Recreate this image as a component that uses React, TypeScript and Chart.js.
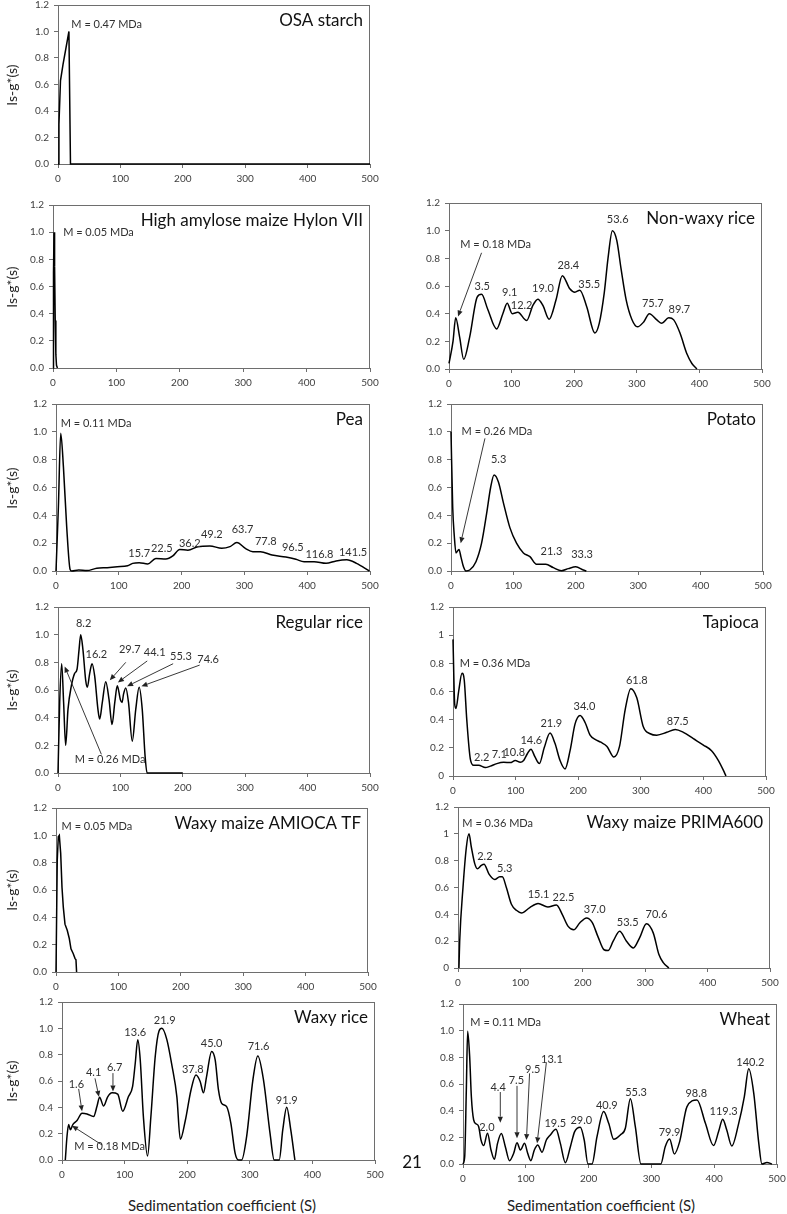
import React, { useEffect, useRef } from "react";
import { Chart, registerables } from "chart.js";
Chart.register(...registerables);

// ---------- axis ticks ----------
const xTicks = [0, 100, 200, 300, 400, 500];
const yTicks = [0, 0.2, 0.4, 0.6, 0.8, 1.0, 1.2];

// ---------- series (sedimentation coefficient S, ls-g*(s)) ----------
const osaS = [0, 1.5, 4, 8, 17.5, 20, 500];
const osaG = [0, 0.3, 0.63, 0.75, 1.0, 0, 0];

const hylonS = [0, 0.8, 1.6, 2.5, 3.5, 4.5, 5.5, 7];
const hylonG = [0, 0.7, 1.0, 0.75, 0.35, 0.1, 0.02, 0];

const nwS = [0, 6.4, 10.7, 17, 23.5, 33, 45, 52, 62, 76, 86, 93, 101, 110, 124, 134, 142, 150, 160, 171, 181, 193, 201, 209, 220, 233, 240, 248, 254, 261, 268, 275, 283, 292, 301, 311, 320, 332, 340, 351, 359, 369, 380, 388, 396];
const nwG = [0.04, 0.2, 0.37, 0.23, 0.07, 0.23, 0.52, 0.54, 0.43, 0.29, 0.4, 0.475, 0.4, 0.41, 0.35, 0.46, 0.505, 0.46, 0.36, 0.5, 0.675, 0.58, 0.555, 0.57, 0.45, 0.26, 0.33, 0.55, 0.8, 1.0, 0.93, 0.72, 0.5, 0.36, 0.305, 0.34, 0.4, 0.355, 0.33, 0.37, 0.355, 0.26, 0.11, 0.04, 0];

const peaS = [0, 3.8, 7.5, 11.8, 17, 22.5, 25, 36, 49, 65, 81.5, 97.6, 114, 122, 132.5, 146, 159, 175, 186, 197, 210, 226, 245, 264, 277, 288, 301.5, 313.5, 325.6, 344, 366, 382, 395, 411, 430, 446, 463, 478.5, 499];
const peaG = [0, 0.46, 0.99, 0.75, 0.32, 0.01, 0, 0.007, 0.003, 0.02, 0.024, 0.03, 0.038, 0.055, 0.06, 0.05, 0.09, 0.086, 0.108, 0.155, 0.15, 0.175, 0.18, 0.163, 0.175, 0.204, 0.163, 0.139, 0.139, 0.115, 0.1, 0.084, 0.067, 0.067, 0.055, 0.072, 0.08, 0.055, 0];

const potS = [0, 2.7, 5.3, 8, 12.8, 16, 20, 24, 30, 40, 49, 57, 63.5, 69, 76, 84, 94.5, 105, 116, 126.5, 137, 152, 164, 177, 188, 200, 212, 217];
const potG = [1.0, 0.46, 0.25, 0.13, 0.155, 0.1, 0.03, 0, 0.007, 0.067, 0.2, 0.41, 0.6, 0.69, 0.64, 0.49, 0.31, 0.2, 0.13, 0.103, 0.048, 0.048, 0.024, 0.002, 0.017, 0.03, 0.007, 0];

const rrS = [0, 2.7, 5.9, 9, 12.3, 16, 21.4, 26.7, 30.5, 33.7, 36.4, 40, 44.4, 47, 50.8, 54.5, 58.8, 64, 66.8, 71, 76.5, 81.8, 86.6, 91, 95, 100, 102.7, 105, 108.6, 113, 119, 124.6, 130, 135, 139.6, 142.8, 200];
const rrG = [0, 0.51, 0.79, 0.51, 0.2, 0.46, 0.63, 0.72, 0.75, 0.89, 1.0, 0.89, 0.67, 0.62, 0.72, 0.79, 0.7, 0.46, 0.39, 0.51, 0.66, 0.53, 0.35, 0.51, 0.63, 0.53, 0.51, 0.57, 0.615, 0.51, 0.23, 0.46, 0.62, 0.46, 0.12, 0, 0];

const tapS = [0, 2.7, 4.8, 9, 14.4, 18, 22, 27.7, 33, 41, 51.6, 59.6, 70, 81, 91.5, 99.5, 107.4, 112.8, 119, 124.5, 131, 138, 145.7, 155, 163, 171, 179, 187, 195, 203, 211, 219, 227, 236, 246, 257, 266, 275, 284, 293.6, 304, 315, 325.5, 341.5, 355, 368, 384, 400, 413, 424, 432, 436];
const tapG = [0.97, 0.51, 0.48, 0.6, 0.73, 0.68, 0.4, 0.12, 0.076, 0.076, 0.06, 0.07, 0.088, 0.097, 0.095, 0.11, 0.097, 0.11, 0.16, 0.19, 0.135, 0.088, 0.2, 0.305, 0.23, 0.11, 0.05, 0.18, 0.37, 0.43, 0.38, 0.29, 0.26, 0.24, 0.21, 0.135, 0.21, 0.47, 0.62, 0.555, 0.35, 0.3, 0.29, 0.31, 0.33, 0.31, 0.265, 0.22, 0.18, 0.11, 0.04, 0];

const amS = [0, 2, 3.7, 5.3, 7.5, 9.6, 11.7, 14.4, 18, 21.3, 24, 27.7, 30.4, 32, 33];
const amG = [0, 0.82, 0.99, 1.0, 0.87, 0.62, 0.475, 0.35, 0.305, 0.245, 0.17, 0.134, 0.1, 0.09, 0];

const prS = [1.5, 2.7, 8, 13.4, 17.6, 21.4, 26.7, 31, 37.4, 41.7, 49.7, 58.8, 67, 71, 77.5, 85.6, 93.6, 101.6, 115, 128.3, 144, 157.8, 167, 176.5, 185.5, 195, 206, 215, 224.6, 234, 240.6, 248.7, 259, 270, 281, 291, 302, 313, 322, 329, 338];
const prG = [0, 0.2, 0.6, 0.9, 1.0, 0.9, 0.78, 0.74, 0.765, 0.773, 0.7, 0.66, 0.68, 0.68, 0.6, 0.475, 0.43, 0.41, 0.45, 0.48, 0.455, 0.47, 0.4, 0.31, 0.285, 0.335, 0.373, 0.34, 0.23, 0.136, 0.13, 0.2, 0.274, 0.2, 0.15, 0.225, 0.33, 0.26, 0.1, 0.04, 0];

const wrS = [5.3, 8, 10.6, 13.3, 17.5, 24, 32, 40, 50.5, 56, 60, 66.5, 73, 80, 89, 97, 106, 112.8, 117, 121, 125, 130, 136.7, 142, 149, 155, 159.6, 167.5, 175.5, 183.5, 189, 197, 206, 214, 220.7, 226, 231, 239, 244.7, 250, 255, 263, 269.7, 276.6, 282, 287, 295, 305, 312.8, 321.8, 332.4, 339, 347, 352.7, 359, 365.4, 372];
const wrG = [0, 0.18, 0.27, 0.23, 0.27, 0.3, 0.355, 0.35, 0.33, 0.41, 0.477, 0.41, 0.48, 0.51, 0.5, 0.37, 0.48, 0.56, 0.735, 0.913, 0.76, 0.33, 0.03, 0.33, 0.79, 0.98, 1.0, 0.914, 0.72, 0.48, 0.157, 0.3, 0.53, 0.645, 0.596, 0.51, 0.635, 0.825, 0.76, 0.53, 0.43, 0.405, 0.28, 0.05, 0, 0, 0.18, 0.61, 0.79, 0.61, 0.2, 0, 0, 0.23, 0.4, 0.23, 0];

const whS = [0, 2.7, 5.3, 7.4, 10.6, 13.3, 17, 21.2, 25, 28.7, 33, 39, 44.6, 50, 55, 61, 67.4, 74, 80.7, 86, 91.3, 98, 103, 108, 113.6, 119, 125.8, 132.7, 139, 148, 155, 163, 171, 177.8, 186.8, 193, 199, 205.4, 213.4, 224, 232, 240, 250.5, 258.5, 266.5, 274.4, 283.4, 315, 322, 329, 336.5, 345, 356.7, 372.6, 386, 399, 407, 413.5, 420, 428, 439, 448, 455, 463, 471, 476, 484, 492];
const whG = [0, 0.055, 0.556, 0.995, 0.807, 0.506, 0.33, 0.3, 0.28, 0.18, 0.138, 0.23, 0.105, 0.035, 0.155, 0.228, 0.13, 0.025, 0.08, 0.16, 0.105, 0.155, 0.08, 0.025, 0.105, 0.143, 0.088, 0.18, 0.218, 0.26, 0.155, 0.01, 0.13, 0.243, 0.275, 0.18, 0, 0, 0.205, 0.393, 0.305, 0.185, 0.218, 0.268, 0.49, 0.28, 0, 0, 0.13, 0.188, 0.075, 0.168, 0.43, 0.48, 0.305, 0.138, 0.243, 0.336, 0.255, 0.135, 0.305, 0.506, 0.714, 0.53, 0.155, 0, 0.012, 0];

// ---------- annotations [S, g, text, align] and arrows [S1, g1, S2, g2] ----------
type Label = [number, number, string, string?];
type Arrow = [number, number, number, number];

const osaLabels: Label[] = [[21.4, 1.05, "M = 0.47 MDa", "l"]];
const hylonLabels: Label[] = [[16, 1.0, "M = 0.05 MDa", "l"]];
const nwLabels: Label[] = [[18, 0.9, "M = 0.18 MDa", "l"], [53, 0.6, "3.5"], [97, 0.55, "9.1"], [116, 0.457, "12.2"], [150, 0.58, "19.0"], [190.5, 0.75, "28.4"], [224, 0.61, "35.5"], [269.5, 1.08, "53.6"], [325.5, 0.476, "75.7"], [368, 0.43, "89.7"]];
const nwArrows: Arrow[] = [[52, 0.84, 14.4, 0.38]];
const peaLabels: Label[] = [[7.5, 1.06, "M = 0.11 MDa", "l"], [132.5, 0.127, "15.7"], [168.5, 0.163, "22.5"], [213, 0.2, "36.2"], [248, 0.26, "49.2"], [297, 0.295, "63.7"], [334, 0.21, "77.8"], [377, 0.168, "96.5"], [419.5, 0.122, "116.8"], [473, 0.13, "141.5"]];
const potLabels: Label[] = [[17, 1.0, "M = 0.26 MDa", "l"], [76.3, 0.8, "5.3"], [161, 0.144, "21.3"], [210, 0.122, "33.3"]];
const potArrows: Arrow[] = [[54.4, 0.953, 15.5, 0.2]];
const rrLabels: Label[] = [[41, 1.08, "8.2"], [61.5, 0.86, "16.2"], [115, 0.89, "29.7"], [155, 0.875, "44.1"], [197, 0.84, "55.3"], [240.6, 0.82, "74.6"], [26.7, 0.1, "M = 0.26 MDa", "l"]];
const rrArrows: Arrow[] = [[108.6, 0.8, 83, 0.67], [143, 0.81, 96, 0.655], [184.5, 0.79, 110.7, 0.627], [227, 0.78, 133.7, 0.627], [69.5, 0.135, 10.7, 0.77]];
const tapLabels: Label[] = [[10.6, 0.8, "M = 0.36 MDa", "l"], [46, 0.13, "2.2"], [74, 0.152, "7.1"], [98, 0.166, "10.8"], [125, 0.254, "14.6"], [157, 0.37, "21.9"], [210, 0.495, "34.0"], [293.6, 0.68, "61.8"], [359, 0.39, "87.5"]];
const amLabels: Label[] = [[9, 1.066, "M = 0.05 MDa", "l"]];
const prLabels: Label[] = [[7, 1.076, "M = 0.36 MDa", "l"], [43, 0.83, "2.2"], [75, 0.74, "5.3"], [129, 0.545, "15.1"], [169, 0.526, "22.5"], [219, 0.435, "37.0"], [272, 0.336, "53.5"], [318, 0.4, "70.6"]];
const wrLabels: Label[] = [[23, 0.576, "1.6"], [50.5, 0.665, "4.1"], [84, 0.705, "6.7"], [117, 0.97, "13.6"], [164, 1.06, "21.9"], [209, 0.69, "37.8"], [239, 0.885, "45.0"], [314, 0.86, "71.6"], [359, 0.45, "91.9"], [19.7, 0.1, "M = 0.18 MDa", "l"]];
const wrArrows: Arrow[] = [[26.6, 0.54, 32, 0.37], [52.7, 0.62, 59, 0.48], [81.4, 0.66, 81.4, 0.52], [64, 0.114, 16, 0.26]];
const whLabels: Label[] = [[11.7, 1.063, "M = 0.11 MDa", "l"], [38, 0.273, "2.0"], [56, 0.576, "4.4"], [85, 0.627, "7.5"], [111, 0.71, "9.5"], [141.6, 0.786, "13.1"], [147, 0.306, "19.5"], [188.4, 0.323, "29.0"], [229, 0.44, "40.9"], [275.5, 0.54, "55.3"], [329, 0.236, "79.9"], [371.5, 0.526, "98.8"], [415, 0.393, "119.3"], [457.5, 0.764, "140.2"]];
const whArrows: Arrow[] = [[59.4, 0.54, 59.4, 0.31], [86, 0.586, 86, 0.193], [106, 0.68, 101, 0.18], [132.7, 0.76, 118, 0.155]];

// ---------- layout ----------
const FONT = "Lato, 'Open Sans', sans-serif";
const YW = 45; // y-axis box width
const XH = 22; // x-axis box height
const PT = 8;
const PR = 12;
const AXIS = "#6e6e6e";

interface Panel {
  title: string;
  s: number[];
  g: number[];
  labels: Label[];
  arrows: Arrow[];
  rect: [number, number, number, number];
  plainY: boolean;
  smooth: boolean;
  yTitle: boolean;
}

const panels: Panel[] = [
  { title: "OSA starch", s: osaS, g: osaG, labels: osaLabels, arrows: [], rect: [58, 5, 370, 164], plainY: false, smooth: false, yTitle: true },
  { title: "High amylose maize Hylon VII", s: hylonS, g: hylonG, labels: hylonLabels, arrows: [], rect: [53, 205, 370, 368], plainY: false, smooth: false, yTitle: true },
  { title: "Non-waxy rice", s: nwS, g: nwG, labels: nwLabels, arrows: nwArrows, rect: [449, 203, 762, 369], plainY: false, smooth: true, yTitle: false },
  { title: "Pea", s: peaS, g: peaG, labels: peaLabels, arrows: [], rect: [56, 404, 370, 571], plainY: false, smooth: true, yTitle: true },
  { title: "Potato", s: potS, g: potG, labels: potLabels, arrows: potArrows, rect: [451, 404, 763, 571], plainY: false, smooth: true, yTitle: false },
  { title: "Regular rice", s: rrS, g: rrG, labels: rrLabels, arrows: rrArrows, rect: [58, 607, 370, 773], plainY: false, smooth: true, yTitle: true },
  { title: "Tapioca", s: tapS, g: tapG, labels: tapLabels, arrows: [], rect: [453, 607, 766, 776], plainY: true, smooth: true, yTitle: false },
  { title: "Waxy maize AMIOCA TF", s: amS, g: amG, labels: amLabels, arrows: [], rect: [56, 808, 368, 972], plainY: false, smooth: false, yTitle: true },
  { title: "Waxy maize PRIMA600", s: prS, g: prG, labels: prLabels, arrows: [], rect: [458, 807, 770, 968], plainY: true, smooth: true, yTitle: false },
  { title: "Waxy rice", s: wrS, g: wrG, labels: wrLabels, arrows: wrArrows, rect: [62, 1002, 375, 1160], plainY: false, smooth: true, yTitle: true },
  { title: "Wheat", s: whS, g: whG, labels: whLabels, arrows: whArrows, rect: [463, 1004, 777, 1164], plainY: false, smooth: true, yTitle: false },
];

function makeDecor(p: Panel) {
  return {
    id: "decor",
    beforeDatasetsDraw(chart: any) {
      const { ctx, chartArea: a } = chart;
      ctx.save();
      ctx.strokeStyle = AXIS;
      ctx.lineWidth = 1;
      ctx.beginPath();
      ctx.moveTo(Math.round(a.left), Math.round(a.top) + 0.5);
      ctx.lineTo(Math.round(a.right), Math.round(a.top) + 0.5);
      ctx.moveTo(Math.round(a.right) - 0.5, Math.round(a.top));
      ctx.lineTo(Math.round(a.right) - 0.5, Math.round(a.bottom));
      ctx.stroke();
      ctx.restore();
    },
    afterDatasetsDraw(chart: any) {
      const { ctx, chartArea: a, scales } = chart;
      const xs = scales.x, ys = scales.y;
      ctx.save();
      // panel title
      ctx.fillStyle = "#111";
      ctx.font = `17px ${FONT}`;
      ctx.textAlign = "right";
      ctx.textBaseline = "middle";
      ctx.fillText(p.title, a.right - 7, a.top + 16);
      // labels
      ctx.fillStyle = "#303030";
      ctx.font = `11px ${FONT}`;
      for (const [sx, gy, text, al] of p.labels) {
        ctx.textAlign = al === "l" ? "left" : "center";
        ctx.fillText(text, xs.getPixelForValue(sx), ys.getPixelForValue(gy));
      }
      // arrows
      ctx.strokeStyle = "#222";
      ctx.fillStyle = "#222";
      ctx.lineWidth = 0.9;
      for (const [s1, g1, s2, g2] of p.arrows) {
        const x1 = xs.getPixelForValue(s1), y1 = ys.getPixelForValue(g1);
        const x2 = xs.getPixelForValue(s2), y2 = ys.getPixelForValue(g2);
        const ang = Math.atan2(y2 - y1, x2 - x1);
        const hl = 6, hw = 2.6;
        const bx = x2 - hl * Math.cos(ang), by = y2 - hl * Math.sin(ang);
        ctx.beginPath();
        ctx.moveTo(x1, y1);
        ctx.lineTo(bx, by);
        ctx.stroke();
        ctx.beginPath();
        ctx.moveTo(x2, y2);
        ctx.lineTo(bx + hw * Math.sin(ang), by - hw * Math.cos(ang));
        ctx.lineTo(bx - hw * Math.sin(ang), by + hw * Math.cos(ang));
        ctx.closePath();
        ctx.fill();
      }
      ctx.restore();
    },
  };
}

function PanelChart({ p }: { p: Panel }) {
  const ref = useRef<HTMLCanvasElement>(null);
  const [L, T, R, B] = p.rect;
  const w = R - L + YW + PR;
  const h = B - T + PT + XH;
  useEffect(() => {
    const pts = p.s.map((sv, i) => ({ x: sv, y: p.g[i] }));
    const chart = new Chart(ref.current as HTMLCanvasElement, {
      type: "line",
      data: {
        datasets: [
          {
            data: pts,
            borderColor: "#000",
            borderWidth: 1.5,
            pointRadius: 0,
            fill: false,
            tension: p.smooth ? 0.4 : 0,
            cubicInterpolationMode: p.smooth ? "monotone" : "default",
            clip: false as any,
          } as any,
        ],
      },
      options: {
        animation: false,
        responsive: false,
        devicePixelRatio: 1,
        layout: { padding: { left: 0, top: PT, right: PR, bottom: 0 } },
        plugins: { legend: { display: false }, tooltip: { enabled: false } },
        scales: {
          x: {
            type: "linear",
            min: 0,
            max: 500,
            afterBuildTicks: (s: any) => {
              s.ticks = xTicks.map((v) => ({ value: v }));
            },
            afterFit: (s: any) => {
              s.height = XH;
              s.paddingLeft = 0;
              s.paddingRight = 0;
            },
            grid: { display: true, drawOnChartArea: false, drawTicks: true, tickLength: 4, color: AXIS },
            border: { display: true, color: AXIS, width: 1 },
            ticks: {
              autoSkip: false,
              maxRotation: 0,
              padding: 5,
              color: "#404040",
              font: { family: FONT, size: 10 },
              callback: (v: any) => String(v),
            },
          },
          y: {
            type: "linear",
            min: 0,
            max: 1.2,
            afterBuildTicks: (s: any) => {
              s.ticks = yTicks.map((v) => ({ value: v }));
            },
            afterFit: (s: any) => {
              s.width = YW;
              s.paddingTop = 0;
              s.paddingBottom = 0;
            },
            grid: { display: true, drawOnChartArea: false, drawTicks: true, tickLength: 4, color: AXIS },
            border: { display: true, color: AXIS, width: 1 },
            ticks: {
              autoSkip: false,
              padding: 5,
              color: "#404040",
              font: { family: FONT, size: 10 },
              callback: (v: any) => (p.plainY ? String(+Number(v).toFixed(1)) : Number(v).toFixed(1)),
            },
          },
        },
      } as any,
      plugins: [makeDecor(p)],
    });
    return () => chart.destroy();
  }, []);
  return (
    <canvas
      ref={ref}
      width={w}
      height={h}
      style={{ position: "absolute", left: L - YW, top: T - PT, width: w, height: h }}
    />
  );
}

export default function App() {
  return (
    <div
      style={{
        position: "absolute",
        left: 0,
        top: 0,
        width: 787,
        height: 1214,
        overflow: "hidden",
        background: "#fff",
        fontFamily: FONT,
      }}
    >
      {panels.map((p, i) => (
        <PanelChart key={i} p={p} />
      ))}
      {panels
        .filter((p) => p.yTitle)
        .map((p, i) => (
          <div
            key={"yt" + i}
            style={{
              position: "absolute",
              left: 12,
              top: (p.rect[1] + p.rect[3]) / 2,
              transform: "translate(-50%, -50%) rotate(-90deg)",
              whiteSpace: "nowrap",
              fontSize: 14,
              color: "#222",
              lineHeight: 1,
            }}
          >
            ls-g*(s)
          </div>
        ))}
      {[222, 601].map((cx, i) => (
        <div
          key={"xt" + i}
          style={{
            position: "absolute",
            left: cx,
            top: 1205,
            transform: "translate(-50%, -50%)",
            whiteSpace: "nowrap",
            fontSize: 15,
            color: "#222",
            lineHeight: 1,
          }}
        >
          Sedimentation coefficient (S)
        </div>
      ))}
      <div
        style={{
          position: "absolute",
          left: 412,
          top: 1161,
          transform: "translate(-50%, -50%)",
          fontSize: 17,
          color: "#111",
          lineHeight: 1,
        }}
      >
        21
      </div>
    </div>
  );
}
